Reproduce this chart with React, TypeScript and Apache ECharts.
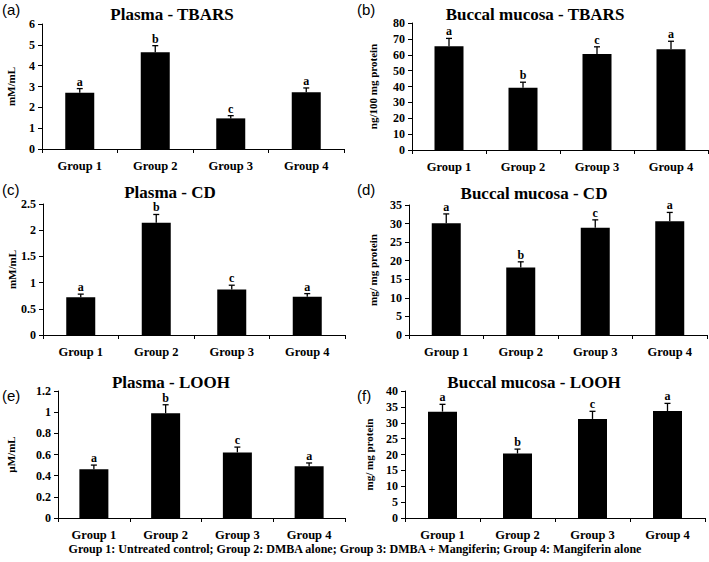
import React, { useEffect, useRef } from "react";
import * as echarts from "echarts";

const groups = ["Group 1", "Group 2", "Group 3", "Group 4"];
const letters = ["a", "b", "c", "a"];

const plasmaTbars = [2.7, 4.64, 1.47, 2.73];
const plasmaTbarsErr = [0.2, 0.32, 0.13, 0.2];
const buccalTbars = [65.3, 39.2, 60.5, 63.5];
const buccalTbarsErr = [5, 3.5, 4.5, 5];
const plasmaCd = [0.72, 2.14, 0.87, 0.73];
const plasmaCdErr = [0.06, 0.16, 0.08, 0.06];
const buccalCd = [30.1, 18.2, 28.9, 30.6];
const buccalCdErr = [2.5, 1.5, 2.1, 2.4];
const plasmaLooh = [0.46, 0.99, 0.62, 0.49];
const plasmaLoohErr = [0.04, 0.08, 0.05, 0.03];
const buccalLooh = [33.5, 20.3, 31.2, 33.7];
const buccalLoohErr = [2.3, 1.4, 2.4, 2.4];

const footer =
  "Group 1: Untreated control; Group 2: DMBA alone; Group 3: DMBA + Mangiferin; Group 4: Mangiferin alone";

const SERIF = "'Liberation Serif', 'Times New Roman', serif";
const SANS = "'Liberation Sans', Arial, sans-serif";

const panels = [
  { tag: "(a)", title: "Plasma - TBARS", unit: "mM/mL", values: plasmaTbars, errs: plasmaTbarsErr, max: 6, interval: 1,
    grid: { left: 42, top: 24, width: 302, height: 125 }, nameGap: 26, tagPos: [2, 2], titlePos: [172, 14] },
  { tag: "(b)", title: "Buccal mucosa - TBARS", unit: "ng/100 mg protein", values: buccalTbars, errs: buccalTbarsErr, max: 80, interval: 10,
    grid: { left: 412, top: 23, width: 296, height: 127 }, nameGap: 34, tagPos: [357, 2], titlePos: [535, 14] },
  { tag: "(c)", title: "Plasma - CD", unit: "mM/mL", values: plasmaCd, errs: plasmaCdErr, max: 2.5, interval: 0.5,
    grid: { left: 43, top: 204, width: 302, height: 131 }, nameGap: 26, tagPos: [2, 182], titlePos: [170, 192] },
  { tag: "(d)", title: "Buccal mucosa - CD", unit: "mg/ mg protein", values: buccalCd, errs: buccalCdErr, max: 35, interval: 5,
    grid: { left: 409, top: 205, width: 298, height: 130 }, nameGap: 31, tagPos: [357, 182], titlePos: [534, 193] },
  { tag: "(e)", title: "Plasma - LOOH", unit: "\u00B5M/mL", values: plasmaLooh, errs: plasmaLoohErr, max: 1.2, interval: 0.2,
    grid: { left: 58, top: 391, width: 287, height: 127 }, nameGap: 42, tagPos: [2, 388], titlePos: [171, 382] },
  { tag: "(f)", title: "Buccal mucosa - LOOH", unit: "mg/ mg protein", values: buccalLooh, errs: buccalLoohErr, max: 40, interval: 5,
    grid: { left: 405, top: 391, width: 300, height: 127 }, nameGap: 31, tagPos: [357, 388], titlePos: [534, 382] },
];

export default function App() {
  const ref = useRef<HTMLDivElement>(null);

  useEffect(() => {
    if (!ref.current) return;
    const chart = echarts.init(ref.current, null, { renderer: "svg" });

    const grids: any[] = [];
    const xAxes: any[] = [];
    const yAxes: any[] = [];
    const series: any[] = [];
    const graphics: any[] = [];

    panels.forEach((p, i) => {
      grids.push({ ...p.grid, containLabel: false });
      xAxes.push({
        type: "category",
        gridIndex: i,
        data: groups,
        axisLine: { lineStyle: { color: "#000", width: 1 } },
        axisTick: { show: true, length: 4, lineStyle: { color: "#000" } },
        axisLabel: { color: "#000", fontFamily: SERIF, fontWeight: "bold", fontSize: 12.5, margin: 10 },
      });
      yAxes.push({
        type: "value",
        gridIndex: i,
        min: 0,
        max: p.max,
        interval: p.interval,
        name: p.unit,
        nameLocation: "middle",
        nameGap: p.nameGap,
        nameRotate: 90,
        nameTextStyle: { color: "#000", fontFamily: SERIF, fontWeight: "bold", fontSize: 11 },
        axisLine: { show: true, lineStyle: { color: "#000", width: 1 } },
        axisTick: { show: true, length: 4, lineStyle: { color: "#000" } },
        splitLine: { show: false },
        axisLabel: { color: "#000", fontFamily: SERIF, fontWeight: "bold", fontSize: 12, margin: 7 },
      });
      series.push({
        type: "bar",
        xAxisIndex: i,
        yAxisIndex: i,
        data: p.values,
        barWidth: 29,
        itemStyle: { color: "#000" },
      });
      series.push({
        type: "custom",
        xAxisIndex: i,
        yAxisIndex: i,
        data: p.values.map((v, k) => [k, v, p.errs[k]]),
        z: 5,
        renderItem: (params: any, api: any) => {
          const idx = api.value(0);
          const v = api.value(1);
          const e = api.value(2);
          const base = api.coord([idx, v]);
          const top = api.coord([idx, v + e]);
          const letter = letters[params.dataIndex];
          return {
            type: "group",
            children: [
              { type: "line", shape: { x1: base[0], y1: base[1], x2: top[0], y2: top[1] }, style: { stroke: "#000", lineWidth: 1.3 } },
              { type: "line", shape: { x1: top[0] - 3, y1: top[1], x2: top[0] + 3, y2: top[1] }, style: { stroke: "#000", lineWidth: 1.3 } },
              {
                type: "text",
                x: top[0],
                y: top[1] - 1,
                style: {
                  text: letter,
                  fill: "#000",
                  font: `bold 12px ${SERIF}`,
                  align: "center",
                  verticalAlign: "bottom",
                },
              },
            ],
          };
        },
      });
      graphics.push({
        type: "text",
        x: p.tagPos[0],
        y: p.tagPos[1],
        style: { text: p.tag, fill: "#000", font: `15px ${SANS}`, align: "left", verticalAlign: "top" },
      });
      graphics.push({
        type: "text",
        x: p.titlePos[0],
        y: p.titlePos[1],
        style: { text: p.title, fill: "#000", font: `bold 17px ${SERIF}`, align: "center", verticalAlign: "middle" },
      });
    });

    graphics.push({
      type: "text",
      x: 355,
      y: 549,
      style: { text: footer, fill: "#000", font: `bold 12px ${SERIF}`, align: "center", verticalAlign: "middle" },
    });

    chart.setOption({
      animation: false,
      backgroundColor: "#fff",
      grid: grids,
      xAxis: xAxes,
      yAxis: yAxes,
      series,
      graphic: graphics,
    });

    return () => chart.dispose();
  }, []);

  return (
    <div
      ref={ref}
      style={{ position: "absolute", left: 0, top: 0, width: 709, height: 562, background: "#fff" }}
    />
  );
}
